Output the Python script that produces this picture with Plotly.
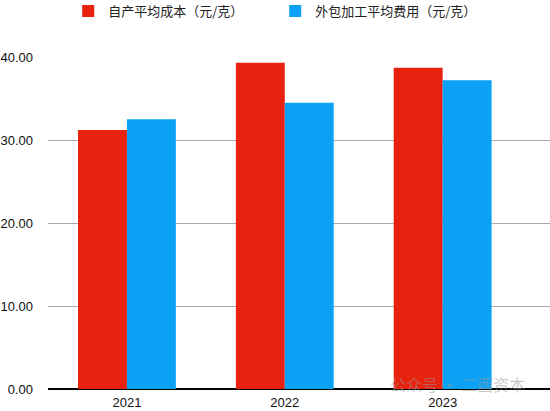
import plotly.graph_objs as go

# 数据
years = ['2021', '2022', '2023']
zichan = [31.2, 39.3, 38.7]      # 自产平均成本（元/克）
waibao = [32.5, 34.5, 37.2]      # 外包加工平均费用（元/克）
y_ticks = [0, 10, 20, 30, 40]

fig = go.Figure(data=[
    go.Bar(name='自产平均成本（元/克）', x=years, y=zichan, marker=dict(color='#E8220E', line=dict(width=0))),
    go.Bar(name='外包加工平均费用（元/克）', x=years, y=waibao, marker=dict(color='#0BA2F6', line=dict(width=0)))
])

fig.update_layout(
    width=550, height=411,
    margin=dict(l=48, r=0, t=57, b=22, autoexpand=False),
    paper_bgcolor='white',
    plot_bgcolor='white',
    font=dict(family='Liberation Sans, Arial, Noto Sans CJK SC', size=13, color='#111111'),
    barmode='group',
    bargap=0.38,
    bargroupgap=0,
    showlegend=True,
    legend=dict(orientation='h', xref='container', yref='container', x=0.124, y=0.973,
                xanchor='left', yanchor='middle',
                entrywidth=162, entrywidthmode='pixels', itemwidth=30,
                font=dict(family='Noto Sans CJK SC', size=13, color='#222222')),
)

fig.update_xaxes(type='category', range=[-0.5, 2.68], showgrid=False, showline=False,
                 ticks='', ticklabelstandoff=4, tickfont=dict(size=13), automargin=False)
fig.update_yaxes(range=[0, 40], tickvals=y_ticks, tickformat='.2f',
                 showgrid=True, gridcolor='#AAAAAA', gridwidth=1,
                 zeroline=True, zerolinecolor='black', zerolinewidth=2,
                 ticks='', ticklabelstandoff=14, tickfont=dict(size=13), automargin=False)

# 水印
fig.add_annotation(text='公众号 · 二酉资本', xref='paper', yref='paper', x=0.955, y=0.016,
                   xanchor='right', yanchor='middle', showarrow=False,
                   font=dict(family='Noto Sans CJK SC', size=16, color='rgba(150,150,150,0.5)'))

# 去掉页面默认的 8px 边距
fig.write_html('out.html', config={'displayModeBar': False},
               post_script="document.body.style.margin='0';")
